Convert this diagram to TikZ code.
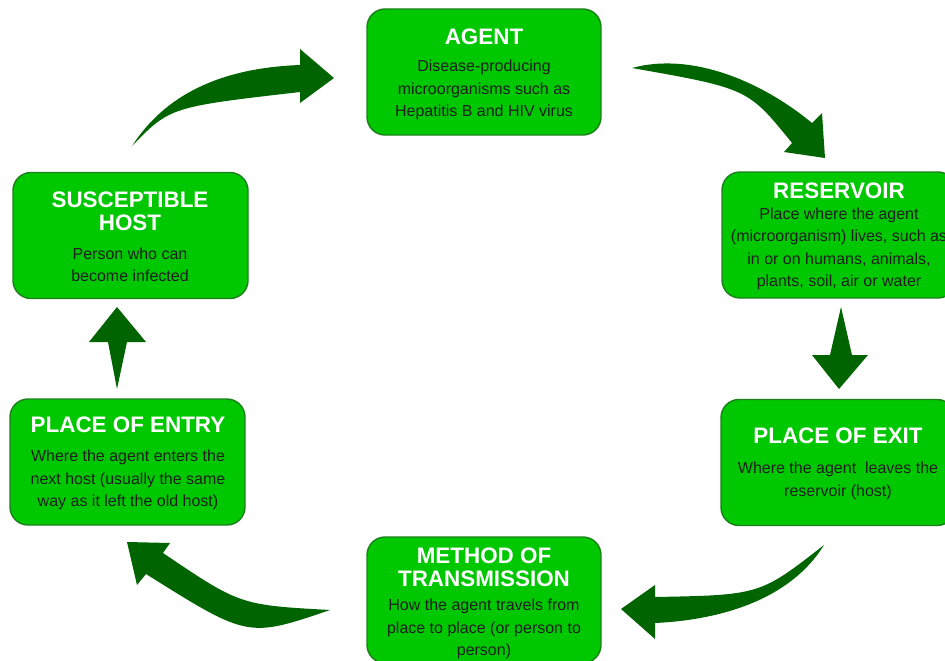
\documentclass[tikz,border=0pt]{standalone}
\usepackage{fontspec}
\setmainfont{Liberation Sans}
\definecolor{boxgreen}{RGB}{0,200,0}
\definecolor{boxedge}{RGB}{28,128,28}
\definecolor{arrowgreen}{RGB}{0,100,0}
\definecolor{bodytext}{RGB}{30,30,30}
\begin{document}
\begin{tikzpicture}[x=1pt,y=-1pt,
  box/.style={draw=boxedge, line width=1.4pt, fill=boxgreen, rounded corners=18pt, minimum width=234pt, minimum height=126pt, inner sep=0pt},
  title/.style={text=white, font=\fontsize{22.4}{23}\selectfont\bfseries, align=center, inner sep=0pt},
  body/.style={text=bodytext, font=\fontsize{16}{22.5}\selectfont, align=center, inner sep=0pt},
  blockarrow/.style={fill=arrowgreen, draw=none}]
\useasboundingbox (0,0) rectangle (945,661);
\clip (0,0) rectangle (945,661);
\fill[white] (0,0) rectangle (945,661);

% boxes
\node[box] (agent) at (484,72) {};
\node[box] (reservoir) at (839,235) {};
\node[box] (exit) at (838,462.5) {};
\node[box] (method) at (484,600) {};
\node[box, minimum width=235pt] (host) at (130.5,235.5) {};
\node[box, minimum width=235pt] (entry) at (127.5,462) {};

% texts
\node[title] (agentT) at (484,36.5) {AGENT};
\node[body] (agentB) at (484,90) {Disease-producing\\microorganisms such as\\Hepatitis B and HIV virus};

\node[title] (reservoirT) at (839,190.5) {RESERVOIR};
\node[body] (reservoirB) at (839,249) {Place where the agent\\(microorganism) lives, such as\\in or on humans, animals,\\plants, soil, air or water};

\node[title] (exitT) at (838,435.5) {PLACE OF EXIT};
\node[body] (exitB) at (838,481) {Where the agent\ \ leaves the\\reservoir (host)};

\node[title] (methodT) at (484,567) {METHOD OF\\TRANSMISSION};
\node[body] (methodB) at (484,629) {How the agent travels from\\place to place (or person to\\person)};

\node[title] (hostT) at (130,211) {SUSCEPTIBLE\\HOST};
\node[body] (hostB) at (130,265) {Person who can\\become infected};

\node[title] (entryT) at (128,424.5) {PLACE OF ENTRY};
\node[body] (entryB) at (128,480) {Where the agent enters the\\next host (usually the same\\way as it left the old host)};

% block arrows
% susceptible host -> agent
\fill[blockarrow] (132,146) .. controls (165,95) and (220,68) .. (300,65) -- (300,49) -- (334,78) -- (300,103) -- (300,92) .. controls (170,107) .. (132,146) -- cycle;
% agent -> reservoir
\fill[blockarrow] (632,68) .. controls (690,52) and (760,80) .. (812,123) -- (822,113) -- (825,158) -- (784,152) -- (792,143) .. controls (748,88.5) .. (632,68) -- cycle;
% reservoir -> exit
\fill[blockarrow] (841,307) -- (852,355) -- (868,355) -- (839,389) -- (812,355) -- (830,355) -- cycle;
% exit -> method
\fill[blockarrow] (824,545) .. controls (760,595) .. (655,597) -- (655,585) -- (621,609) -- (655,639) -- (655,623) .. controls (720,620) and (790,600) .. (824,545) -- cycle;
% method -> entry
\fill[blockarrow] (330,610) .. controls (240,605) .. (163,553) -- (170,543) -- (127,542) -- (137,585) -- (146,574) .. controls (248,638) .. (330,610) -- cycle;
% entry -> susceptible host
\fill[blockarrow] (117,389) -- (127,342) -- (146,342) -- (117,307) -- (89,342) -- (108,342) -- cycle;
\end{tikzpicture}
\end{document}
